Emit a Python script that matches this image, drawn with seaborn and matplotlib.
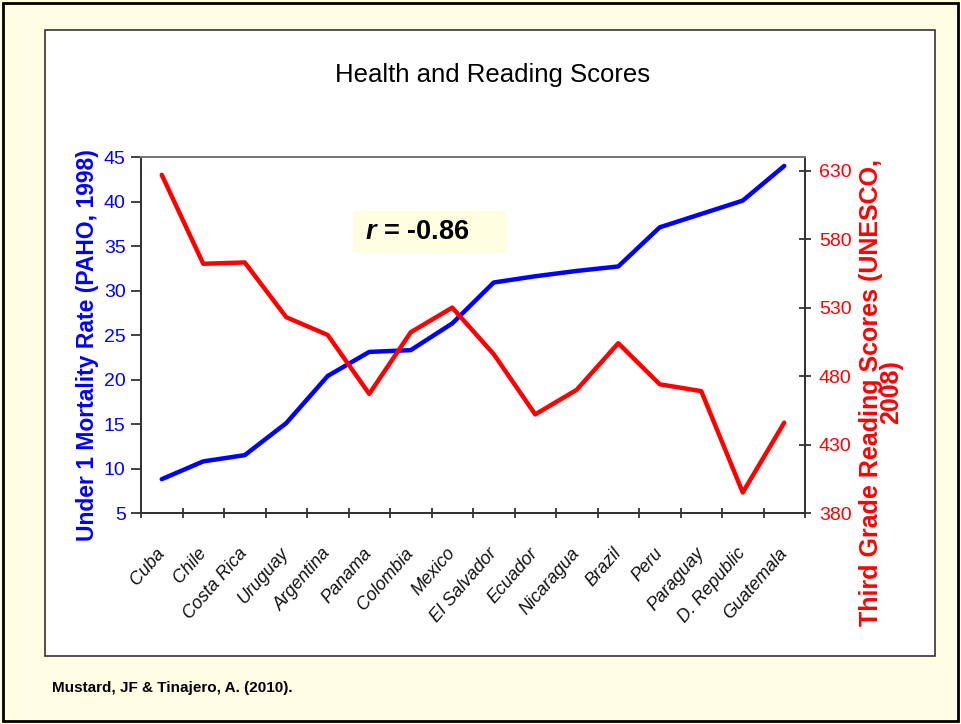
import pandas as pd
import numpy as np
import matplotlib
matplotlib.use("Agg")
import matplotlib.pyplot as plt
from matplotlib.patches import Rectangle
from matplotlib.ticker import FixedLocator
import seaborn as sns

# Data
countries = ['Cuba', 'Chile', 'Costa Rica', 'Uruguay', 'Argentina', 'Panama', 'Colombia',
             'Mexico', 'El Salvador', 'Ecuador', 'Nicaragua', 'Brazil', 'Peru', 'Paraguay',
             'D. Republic', 'Guatemala']
mortality = [8.8, 10.8, 11.5, 15.1, 20.4, 23.1, 23.3, 26.3, 30.9, 31.6, 32.2, 32.7,
             37.1, 38.6, 40.1, 44.0]
reading = [627, 562, 563, 523, 510, 467, 512, 530, 496, 452, 470, 504, 474, 469, 395, 446]
left_ticks = [5, 10, 15, 20, 25, 30, 35, 40, 45]
right_ticks = [380, 430, 480, 530, 580, 630]

df = pd.DataFrame({'country': countries, 'mortality': mortality, 'reading': reading})

sns.set_style('white')
plt.rcParams['font.family'] = ['Liberation Sans', 'DejaVu Sans']
plt.rcParams['mathtext.fontset'] = 'custom'
plt.rcParams['mathtext.it'] = 'Liberation Sans:italic:bold'
plt.rcParams['mathtext.rm'] = 'Liberation Sans:bold'

fig = plt.figure(figsize=(9.61, 7.24), dpi=100)
fig.patch.set_facecolor('#FFFDE3')

# outer frame and white panel (behind the axes)
fig.patches.append(Rectangle((0.003, 0.004), 0.994, 0.992, transform=fig.transFigure,
                             fill=False, edgecolor='black', linewidth=2, zorder=-2))
fig.patches.append(Rectangle((45 / 961, 1 - 656 / 724), 890 / 961, 626 / 724,
                             transform=fig.transFigure, facecolor='white',
                             edgecolor='#333333', linewidth=1.2, zorder=-1))

ax = fig.add_axes([141 / 961, 1 - 513 / 724, 664 / 961, 356 / 724])
ax.set_facecolor('white')
ax2 = ax.twinx()

sns.lineplot(data=df, x='country', y='mortality', ax=ax, color='#0000FF', linewidth=3.2, sort=False)
sns.lineplot(data=df, x='country', y='reading', ax=ax2, color='#FF0000', linewidth=3.2, sort=False)

n = len(countries)
ax.set_xlim(-0.5, n - 0.5)
ax.set_ylim(5, 45)
ax2.set_ylim(380, 380 + 260)

ax.set_yticks(left_ticks)
ax2.set_yticks(right_ticks)
ax.set_xticks(range(n))
ax.set_xticklabels(countries, rotation=49, ha='right', va='center', rotation_mode='anchor',
                   fontstyle='italic', fontsize=13, color='#111111')
ax.xaxis.set_minor_locator(FixedLocator(np.arange(-0.5, n, 1)))
ax.tick_params(axis='x', which='major', length=0, pad=27)
ax.tick_params(axis='x', which='minor', length=7, direction='inout', width=1.2, color='#222222',
               bottom=True)
ax.tick_params(axis='y', which='major', length=7, direction='out', width=1.2, color='#222222',
               labelcolor='#0000FF', labelsize=14, pad=4, left=True)
ax2.tick_params(axis='y', which='major', length=8, direction='inout', width=1.2, color='#222222',
                labelcolor='#FF0000', labelsize=14, pad=6, right=True)

for a in (ax, ax2):
    for side, sp in a.spines.items():
        sp.set_color('#333333')
        sp.set_linewidth(1.4)
    a.spines['top'].set_color('#777777')

ax.set_xlabel('')
ax.set_ylabel('Under 1 Mortality Rate (PAHO, 1998)', color='#0000FF', fontsize=16.5,
              fontweight='bold')
ax.yaxis.set_label_coords(-42 / 664, (513 - 345) / 356)
ax2.set_ylabel('Third Grade Reading Scores (UNESCO,\n2008)', color='#FF0000', fontsize=18,
               fontweight='bold', linespacing=0.8)
ax2.yaxis.set_label_coords(1 + 54 / 664, (513 - 392) / 356)

fig.text(493 / 961, 1 - 75 / 724, 'Health and Reading Scores', ha='center', va='center',
         fontsize=18.5, color='black')

# correlation box
ax.add_patch(Rectangle(((353 - 141) / 664, (513 - 253) / 356), 153 / 664, 42 / 356,
                       transform=ax.transAxes, facecolor='#FFFEE0', edgecolor='none', zorder=3))
ax.text((365 - 141) / 664, (513 - 232) / 356, r'$r$ = -0.86', transform=ax.transAxes,
        fontsize=19.5, fontweight='bold', va='center', ha='left', color='black', zorder=4)

fig.text(52 / 961, 1 - 688 / 724, 'Mustard, JF & Tinajero, A. (2010).', ha='left', va='center',
         fontsize=11, fontweight='bold', color='black')

fig.savefig('out.png', dpi=100, facecolor=fig.get_facecolor())
